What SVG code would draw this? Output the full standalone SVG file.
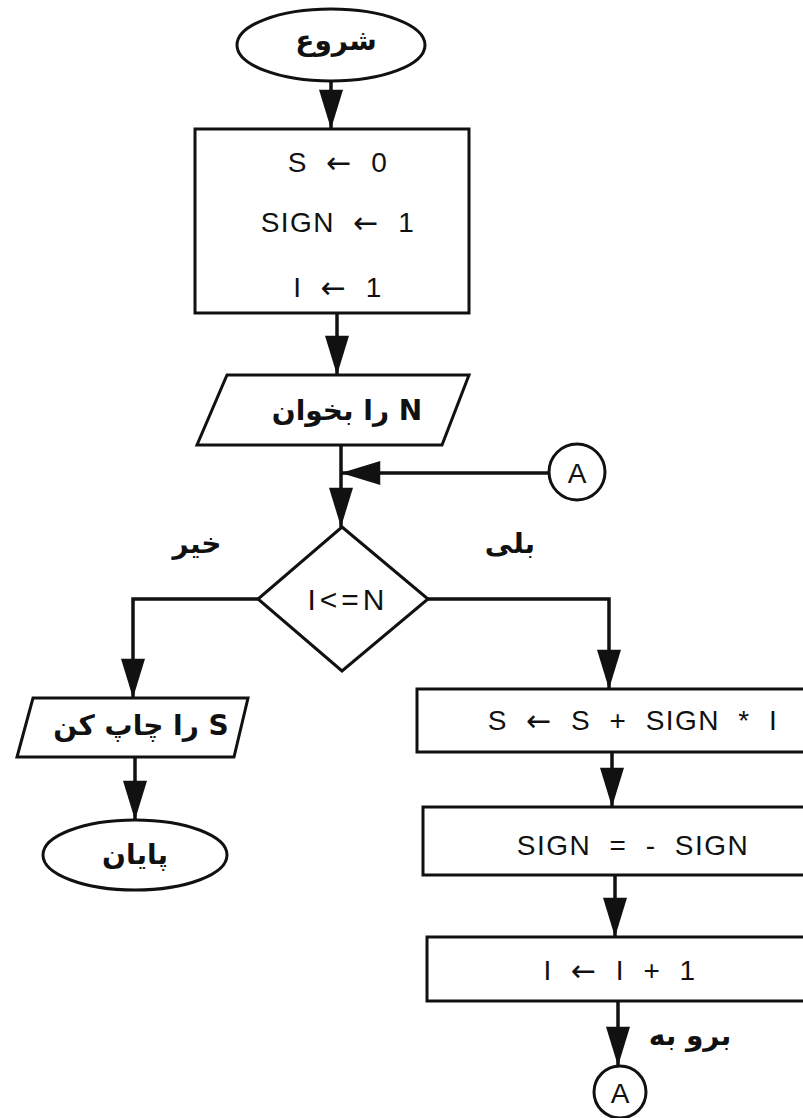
<svg xmlns="http://www.w3.org/2000/svg" width="803" height="1118" viewBox="0 0 803 1118">
<style>
.s{fill:#fff;stroke:#111;stroke-width:3}
.c{fill:none;stroke:#111;stroke-width:3.5}
.t{font-family:"Liberation Sans",Arial,sans-serif;font-size:28px;fill:#111;text-anchor:middle;dominant-baseline:central;letter-spacing:1.5px;word-spacing:9px}
.a{font-family:"DejaVu Sans",sans-serif;font-size:30px}
.p{font-family:"DejaVu Sans","Noto Sans",sans-serif;font-size:28px;font-weight:bold;fill:#111;text-anchor:middle;dominant-baseline:central}
</style>
<defs>
<marker id="ah" markerUnits="userSpaceOnUse" markerWidth="40" markerHeight="24" viewBox="0 0 36 22" refX="36" refY="11" orient="auto">
<path d="M0,0 L36,11 L0,22 Z" fill="#111"/>
</marker>
</defs>
<rect width="803" height="1118" fill="#fff"/>
<g id="connectors">
<path class="c" d="M331,82 L331,129" marker-end="url(#ah)"/>
<path class="c" d="M337,313 L337,375" marker-end="url(#ah)"/>
<path class="c" d="M341,445 L341,527" marker-end="url(#ah)"/>
<path class="c" d="M549,473 L341,473" marker-end="url(#ah)"/>
<path class="c" d="M258,599 L133,599 L133,698" marker-end="url(#ah)"/>
<path class="c" d="M135,757 L135,820" marker-end="url(#ah)"/>
<path class="c" d="M428,599 L609,599 L609,689" marker-end="url(#ah)"/>
<path class="c" d="M612,752 L612,807" marker-end="url(#ah)"/>
<path class="c" d="M615,875 L615,937" marker-end="url(#ah)"/>
<path class="c" d="M618,1001 L618,1066" marker-end="url(#ah)"/>
</g>
<g id="start">
<ellipse class="s" cx="331" cy="45" rx="94" ry="36"/>
<text class="p" x="336" y="40" direction="rtl">شروع</text>
</g>
<g id="init">
<rect class="s" x="195" y="129" width="274" height="184"/>
<text class="t" x="338" y="162">S <tspan class="a">←</tspan> 0</text>
<text class="t" x="338" y="222">SIGN <tspan class="a">←</tspan> 1</text>
<text class="t" x="338" y="287">I <tspan class="a">←</tspan> 1</text>
</g>
<g id="readN">
<polygon class="s" points="227,375 469,375 442,445 197,445"/>
<text class="p" x="347" y="410" direction="rtl">N را بخوان</text>
</g>
<g id="connA1">
<circle class="s" cx="577" cy="472" r="28"/>
<text class="t" x="577" y="473" style="letter-spacing:0">A</text>
</g>
<g id="decision">
<polygon class="s" points="342,527 428,599 342,671 258,599"/>
<text class="t" x="348" y="599" style="font-size:30px;letter-spacing:4px">I&lt;=N</text>
</g>
<g id="labels">
<text class="p" x="197" y="543" direction="rtl">خیر</text>
<text class="p" x="510" y="543" direction="rtl">بلی</text>
<text class="p" x="690" y="1035" direction="rtl">برو به</text>
</g>
<g id="printS">
<polygon class="s" points="33,698 248,698 234,757 17,757"/>
<text class="p" x="141" y="725" direction="rtl">S را چاپ کن</text>
</g>
<g id="end">
<ellipse class="s" cx="135" cy="855" rx="92" ry="35"/>
<text class="p" x="135" y="854" direction="rtl">پایان</text>
</g>
<g id="sum">
<rect class="s" x="417" y="689" width="403" height="63"/>
<text class="t" x="633" y="720">S <tspan class="a">←</tspan> S + SIGN * I</text>
</g>
<g id="flip">
<rect class="s" x="423" y="807" width="397" height="68"/>
<text class="t" x="633" y="845">SIGN = - SIGN</text>
</g>
<g id="inc">
<rect class="s" x="427" y="937" width="393" height="64"/>
<text class="t" x="620" y="970">I <tspan class="a">←</tspan> I + 1</text>
</g>
<g id="connA2">
<circle class="s" cx="620" cy="1092" r="26"/>
<text class="t" x="620" y="1093" style="letter-spacing:0">A</text>
</g>
</svg>
